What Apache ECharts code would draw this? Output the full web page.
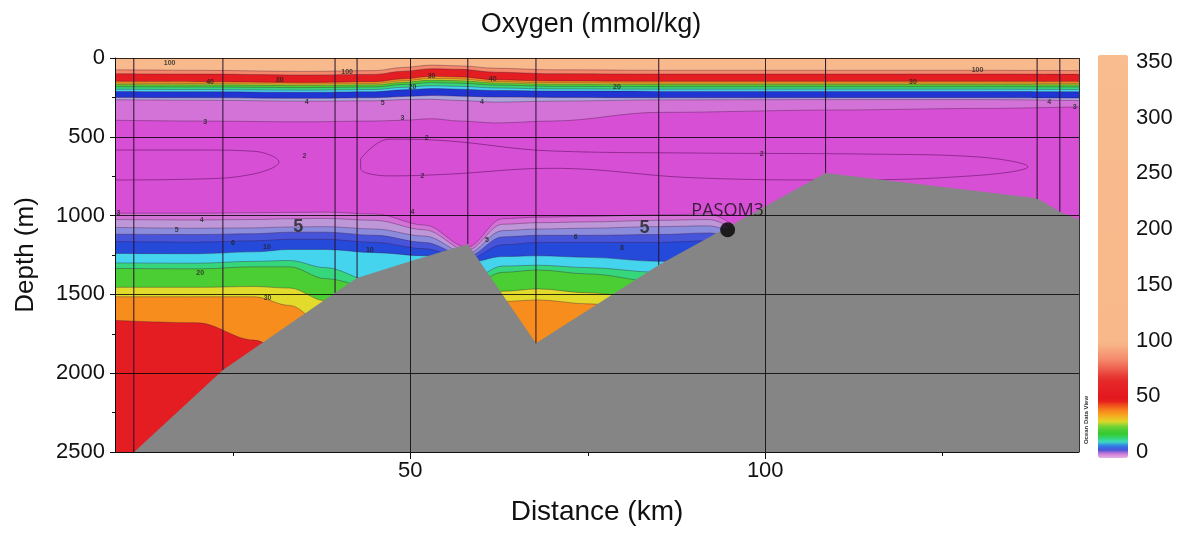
<!DOCTYPE html>
<html>
<head>
<meta charset="utf-8">
<script src="https://cdn.jsdelivr.net/npm/echarts@6/dist/echarts.min.js"></script>
</head>
<body style="margin:0;background:#fff">
<div id="main" style="width:1182px;height:533px"></div>
<script>
// ---- upper oxycline: isoline depths (m) read at these distances (km)
const upperDist = [8.4, 20, 35, 45, 49, 53, 57, 62, 70, 85, 110, 130, 144.2];
const upperLevels = [3, 4, 6, 10, 14, 20, 28, 35, 45, 70, 100]; // deepest first
const upperDepths = [
  [395, 400, 405, 400, 395, 385, 400, 412, 400, 345, 330, 320, 310],
  [265, 268, 274, 272, 264, 262, 270, 280, 274, 266, 264, 264, 270],
  [250, 252, 256, 252, 244, 238, 242, 248, 250, 252, 252, 252, 254],
  [212, 214, 218, 214, 202, 194, 198, 206, 210, 212, 212, 212, 214],
  [198, 200, 204, 200, 186, 176, 180, 190, 196, 198, 198, 198, 200],
  [182, 184, 188, 184, 168, 156, 160, 172, 180, 182, 182, 182, 184],
  [168, 170, 174, 170, 154, 140, 144, 158, 166, 168, 168, 168, 170],
  [160, 162, 166, 162, 145, 130, 134, 150, 158, 160, 160, 160, 162],
  [148, 150, 155, 150, 132, 116, 120, 138, 146, 148, 148, 148, 150],
  [100, 102, 108, 104, 84, 68, 72, 90, 100, 102, 102, 102, 104],
  [75, 78, 85, 80, 60, 45, 50, 65, 75, 78, 78, 78, 80]
];

// ---- lower oxycline: isoline depths (m), shallowest first
const lowerDist = [8.4, 20, 28, 33, 38, 45, 52, 58, 63, 68, 75, 85, 92, 98];
const lowerLevels = [3, 4, 5, 6, 8, 10, 14, 20, 28, 35, 45];
const lowerDepths = [
  [985, 985, 982, 980, 978, 990, 1060, 1200, 1020, 1010, 1005, 995, 990, 1150],
  [1025, 1028, 1025, 1020, 1018, 1030, 1090, 1220, 1055, 1045, 1040, 1030, 1025, 1160],
  [1075, 1080, 1078, 1072, 1070, 1085, 1130, 1240, 1095, 1085, 1080, 1070, 1065, 1170],
  [1118, 1120, 1115, 1105, 1105, 1125, 1170, 1260, 1135, 1125, 1125, 1120, 1110, 1180],
  [1165, 1168, 1160, 1150, 1150, 1170, 1210, 1280, 1185, 1170, 1170, 1170, 1160, 1200],
  [1240, 1242, 1230, 1215, 1215, 1235, 1255, 1300, 1260, 1255, 1265, 1290, 1300, 1300],
  [1300, 1302, 1290, 1285, 1330, 1420, 1420, 1420, 1320, 1315, 1330, 1360, 1380, 1400],
  [1335, 1338, 1325, 1325, 1400, 1460, 1460, 1460, 1360, 1345, 1370, 1420, 1440, 1450],
  [1455, 1455, 1450, 1460, 1540, 1600, 1620, 1620, 1480, 1465, 1490, 1540, 1560, 1560],
  [1515, 1515, 1515, 1570, 1700, 1720, 1720, 1720, 1545, 1535, 1560, 1610, 1630, 1630],
  [1665, 1680, 1790, 1900, 1900, 1900, 1900, 1900, 1900, 1900, 1900, 1900, 1900, 1900]
];

// ---- "2" contours inside the oxygen minimum core
const iso2Left = [[8.4, 584], [20, 584], [28, 592], [31.5, 660], [28, 735], [20, 768], [8.4, 774]];
const iso2Right = [[43, 640], [47, 515], [55, 525], [70, 590], [90, 603], [115, 610], [130, 628], [137, 690],
  [130, 745], [110, 774], [90, 760], [70, 700], [55, 738], [47, 748], [43, 700], [43, 640]];

// ---- bathymetry and stations
const bathyDist = [11.1, 23.6, 39.4, 42.5, 50, 58.1, 67.7, 85.0, 108.5, 138.3, 141.5, 144.2];
const bathyDepth = [2500, 1980, 1490, 1396, 1290, 1180, 1810, 1313, 730, 890, 975, 1025];
const stationDist = [11.05, 23.6, 39.4, 42.5, 58.1, 67.7, 85.0, 108.5, 138.3, 141.5];
const stationBottom = [2500, 1980, 1490, 1396, 1180, 1810, 1313, 730, 895, 975];
const pasom3 = [[94.7, 1090]];

// ---- contour labels [km, m, text]
const contourLabels = [
  [16.1, 32, '100'], [41.1, 89, '100'], [129.9, 76, '100'],
  [21.8, 152, '40'], [61.6, 133, '40'], [31.6, 140, '30'], [53.0, 114, '30'], [120.8, 152, '30'],
  [50.3, 184, '20'], [79.1, 184, '20'], [35.4, 279, '4'], [60.1, 279, '4'], [46.1, 285, '5'],
  [21.1, 406, '3'], [48.9, 381, '3'], [35.1, 622, '2'], [52.3, 508, '2'], [51.7, 749, '2'],
  [99.5, 609, '2'], [140.0, 279, '4'], [143.6, 311, '3'],
  [8.9, 983, '3'], [20.6, 1028, '4'], [17.1, 1091, '5'], [25.0, 1174, '6'], [29.8, 1199, '10'],
  [20.4, 1364, '20'], [29.9, 1523, '30'], [44.3, 1218, '10'], [50.3, 977, '4'],
  [60.8, 1155, '5'], [73.3, 1136, '6'], [79.8, 1205, '8']
];
const bigLabels = [[34.2, 1072, '5'], [83.0, 1079, '5']];

// ---- colour scale (value, colour)
const oxyStops = [
  [0, '#e6b0e8'], [1.5, '#d64fd4'], [3, '#d65cd5'], [4, '#cf8ad8'], [5, '#aca4da'], [6, '#6c74e0'],
  [8, '#1f34d2'], [10, '#2a5ee0'], [12, '#44d4ee'], [16, '#38dc96'], [20, '#2ec82e'], [27, '#60d038'],
  [31, '#e0e02c'], [37, '#f8a81e'], [44, '#f46a1c'], [50, '#e3141c'], [68, '#e52a2a'], [85, '#f4886a'],
  [100, '#f8b88a'], [350, '#f8bc8e']
];

function hex2rgb(h) {
  const n = parseInt(h.slice(1), 16);
  return [(n >> 16) & 255, (n >> 8) & 255, n & 255];
}
function cmap(v) {
  for (let i = 1; i < oxyStops.length; i++) {
    const [v1, c1] = oxyStops[i - 1];
    const [v2, c2] = oxyStops[i];
    if (v <= v2) {
      const t = Math.max(0, (v - v1) / (v2 - v1));
      const a = hex2rgb(c1), b = hex2rgb(c2);
      return 'rgb(' + a.map((x, k) => Math.round(x + (b[k] - x) * t)).join(',') + ')';
    }
  }
  return oxyStops[oxyStops.length - 1][1];
}
const ramp = [];
for (let v = 0; v <= 350; v += 2) ramp.push(cmap(v));

const FONT = 'Liberation Sans, Arial, sans-serif';
const contourLine = { color: 'rgba(60,20,60,0.45)', width: 0.8 };

const series = [];
// upper bands: each isoline filled up to the surface, deepest first
upperLevels.forEach((lev, i) => {
  const next = i < upperLevels.length - 1 ? upperLevels[i + 1] : 350;
  const mid = i < upperLevels.length - 1 ? (lev + next) / 2 : 225;
  series.push({
    type: 'line', smooth: 0.35, smoothMonotone: 'x', symbol: 'none', silent: true, z: 2,
    data: upperDist.map((d, j) => [d, upperDepths[i][j]]),
    lineStyle: contourLine,
    areaStyle: { color: cmap(mid), opacity: 1, origin: 'start' }
  });
});
// lower bands: each isoline filled down to the bottom, shallowest first
lowerLevels.forEach((lev, i) => {
  const next = i < lowerLevels.length - 1 ? lowerLevels[i + 1] : 70;
  series.push({
    type: 'line', smooth: 0.35, smoothMonotone: 'x', symbol: 'none', silent: true, z: 2,
    data: lowerDist.map((d, j) => [d, lowerDepths[i][j]]),
    lineStyle: contourLine,
    areaStyle: { color: cmap((lev + next) / 2), opacity: 1, origin: 'end' }
  });
});
[iso2Left, iso2Right].forEach(pts => {
  series.push({
    type: 'line', smooth: 0.4, symbol: 'none', silent: true, z: 2,
    data: pts, lineStyle: { color: 'rgba(110,20,110,0.7)', width: 0.9 }
  });
});
// sea floor
series.push({
  type: 'line', symbol: 'none', silent: true, z: 3,
  data: bathyDist.map((d, i) => [d, bathyDepth[i]]),
  lineStyle: { width: 0 },
  areaStyle: { color: '#858585', opacity: 1, origin: 'end' }
});
// station profiles
series.push({
  type: 'custom', silent: true, z: 4,
  data: stationDist.map((d, i) => [d, stationBottom[i]]),
  renderItem: (params, api) => {
    const top = api.coord([api.value(0), 0]);
    const bot = api.coord([api.value(0), api.value(1)]);
    return {
      type: 'line',
      shape: { x1: top[0], y1: top[1], x2: bot[0], y2: bot[1] },
      style: { stroke: '#2a1030', lineWidth: 1 }
    };
  }
});
series.push({
  type: 'scatter', silent: true, z: 6, symbolSize: 0, data: contourLabels,
  label: { show: true, position: 'inside', formatter: p => p.data[2], fontSize: 7, fontWeight: 'bold', color: '#222', fontFamily: FONT }
});
series.push({
  type: 'scatter', silent: true, z: 6, symbolSize: 0, data: bigLabels,
  label: { show: true, position: 'inside', formatter: p => p.data[2], fontSize: 18, fontWeight: 'bold', color: '#222', fontFamily: FONT }
});
series.push({
  type: 'scatter', silent: true, z: 7, symbolSize: 15, data: pasom3,
  itemStyle: { color: '#000' },
  label: { show: true, position: 'top', distance: 2, formatter: 'PASOM3', fontSize: 18, color: '#111', fontFamily: 'Open Sans' }
});

const option = {
  animation: false,
  title: {
    text: 'Oxygen (mmol/kg)', left: 'center', top: 6,
    textStyle: { fontSize: 27, fontWeight: 'normal', color: '#111', fontFamily: FONT }
  },
  grid: [
    { left: 115, top: 58, width: 964, height: 394, show: true, backgroundColor: '#d64fd4', borderWidth: 0 },
    { left: 1098, top: 62, width: 30, height: 390 }
  ],
  xAxis: [
    {
      type: 'value', gridIndex: 0, min: 8.4, max: 144.2, splitNumber: 3, z: 5,
      name: 'Distance (km)', nameLocation: 'middle', nameGap: 46,
      nameTextStyle: { fontSize: 28, color: '#111', fontFamily: FONT },
      axisLine: { onZero: false, lineStyle: { color: '#111' } },
      axisTick: { length: 7, lineStyle: { color: '#111' } },
      axisLabel: { showMinLabel: false, showMaxLabel: false, fontSize: 22, color: '#111', margin: 8, fontFamily: FONT },
      splitLine: { show: true, lineStyle: { color: 'rgba(0,0,0,0.8)', width: 1 } }
    },
    {
      type: 'value', gridIndex: 0, min: 8.4, max: 144.2, position: 'bottom', z: 5,
      axisLine: { show: false, onZero: false },
      axisTick: { customValues: [25, 75, 125], length: 4, lineStyle: { color: '#111' } },
      axisLabel: { show: false }, splitLine: { show: false }
    },
    { type: 'value', gridIndex: 1, show: false, min: 0, max: 1 }
  ],
  yAxis: [
    {
      type: 'value', gridIndex: 0, inverse: true, min: 0, max: 2500, interval: 500, z: 5,
      name: 'Depth (m)', nameLocation: 'middle', nameRotate: 90, nameGap: 76,
      nameTextStyle: { fontSize: 26, color: '#111', fontFamily: FONT },
      axisLine: { onZero: false, lineStyle: { color: '#111' } },
      axisTick: { length: 5, lineStyle: { color: '#111' } },
      minorTick: { show: true, splitNumber: 2, length: 3, lineStyle: { color: '#111' } },
      axisLabel: { fontSize: 22, color: '#111', margin: 10, fontFamily: FONT, formatter: v => String(v) },
      splitLine: { show: true, lineStyle: { color: 'rgba(0,0,0,0.8)', width: 1 } }
    },
    {
      type: 'value', gridIndex: 1, position: 'right', min: 0, max: 350, interval: 50,
      axisLine: { show: false }, axisTick: { show: false }, splitLine: { show: false },
      axisLabel: { fontSize: 22, color: '#111', margin: 8, fontFamily: FONT }
    }
  ],
  visualMap: {
    type: 'continuous', min: 0, max: 350, seriesIndex: [], calculable: false, hoverLink: false,
    orient: 'vertical', left: 1098, top: 55, itemWidth: 30, itemHeight: 403, padding: 0,
    inRange: { color: ramp }
  },
  graphic: [{
    type: 'text', x: 1086, y: 420, rotation: Math.PI / 2, silent: true,
    style: { text: 'Ocean Data View', fontSize: 6, fontWeight: 'bold', fill: '#333', align: 'center', verticalAlign: 'middle' }
  }],
  series: series
};

const chart = echarts.init(document.getElementById('main'), null, { renderer: 'canvas' });
chart.setOption(option);
window.addEventListener('resize', chart.resize);
</script>
</body>
</html>
